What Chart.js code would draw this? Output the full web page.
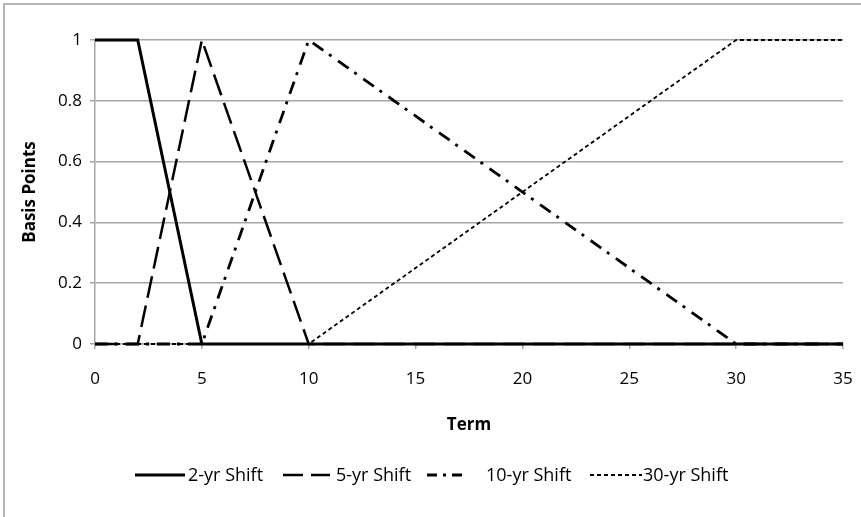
<!DOCTYPE html>
<html>
<head>
<meta charset="utf-8">
<script src="https://cdn.jsdelivr.net/npm/chart.js@4/dist/chart.umd.min.js"></script>
<style>
  html, body { margin: 0; padding: 0; background: #ffffff; overflow: hidden; }
  #wrap { position: relative; width: 861px; height: 517px; }
</style>
</head>
<body>
<div id="wrap"><canvas id="c" width="861" height="517"></canvas></div>
<script>
// Key-rate shift profiles: basis-point shift by term (years)
const terms = [0, 2, 5, 10, 30, 35];
const shift2yr  = [1, 1, 0, 0, 0, 0];
const shift5yr  = [0, 0, 1, 0, 0, 0];
const shift10yr = [0, 0, 0, 1, 0, 0];
const shift30yr = [0, 0, 0, 0, 1, 1];
const seriesLabels = ['2-yr Shift', '5-yr Shift', '10-yr Shift', '30-yr Shift'];
const xTitle = 'Term';
const yTitle = 'Basis Points';

const FONT = '"Open Sans", "Noto Sans", sans-serif';
const GRID = '#a6a6a6';

function pts(vals) { return terms.map((t, i) => ({ x: t, y: vals[i] })); }

const styles = [
  { borderWidth: 3,   borderDash: [] },
  { borderWidth: 2.5, borderDash: [22, 8] },
  { borderWidth: 2.8, borderDash: [13, 7, 3, 8] },
  { borderWidth: 1.8, borderDash: [4, 3] }
];

// legend line-sample geometry: sample start, sample length, gap before text
const legendSlots = [
  { x: 135, len: 50, gap: 3 },
  { x: 283, len: 47, gap: 6 },
  { x: 427, len: 41, gap: 18 },
  { x: 590, len: 52, gap: 1 }
];
const legendDash = [[], [20, 8], [10, 6, 3, 6], [4, 3]];

const datasets = [shift2yr, shift5yr, shift10yr, shift30yr].map((vals, i) => ({
  label: seriesLabels[i],
  data: pts(vals),
  borderColor: '#000000',
  backgroundColor: '#000000',
  borderWidth: styles[i].borderWidth,
  borderDash: styles[i].borderDash,
  pointRadius: 0,
  tension: 0,
  fill: false,
  clip: false
}));

// Outer frame (top and left edges visible) and the line-sample legend
const decor = {
  id: 'decor',
  beforeDraw(chart) {
    const ctx = chart.ctx;
    ctx.save();
    ctx.strokeStyle = '#a0a0a0';
    ctx.lineWidth = 1.5;
    ctx.strokeRect(4, 4, 900, 600);
    ctx.restore();
  },
  afterDraw(chart) {
    const ctx = chart.ctx;
    ctx.save();
    ctx.font = '18px ' + FONT;
    ctx.textBaseline = 'middle';
    ctx.fillStyle = '#000000';
    const y = 475;
    chart.data.datasets.forEach((ds, i) => {
      const s = legendSlots[i];
      ctx.strokeStyle = ds.borderColor;
      ctx.lineWidth = ds.borderWidth;
      ctx.setLineDash(legendDash[i]);
      ctx.beginPath();
      ctx.moveTo(s.x, y);
      ctx.lineTo(s.x + s.len, y);
      ctx.stroke();
      ctx.setLineDash([]);
      ctx.fillText(ds.label, s.x + s.len + s.gap, y + 1);
    });
    ctx.restore();
  }
};

new Chart(document.getElementById('c'), {
  type: 'line',
  data: { datasets },
  plugins: [decor],
  options: {
    responsive: false,
    animation: false,
    layout: { padding: { left: 0, top: 40, right: 18, bottom: 0 } },
    plugins: { legend: { display: false }, tooltip: { enabled: false } },
    scales: {
      x: {
        type: 'linear',
        min: 0, max: 35,
        afterFit(scale) { scale.height = 173; scale.paddingRight = 0; scale.paddingLeft = 0; },
        ticks: { stepSize: 5, color: '#000000', padding: 20, font: { family: FONT, size: 17 }, maxRotation: 0 },
        grid: { drawOnChartArea: false, drawTicks: true, tickLength: 5, color: GRID, lineWidth: 1.5 },
        border: { display: true, color: GRID, width: 1.5 },
        title: { display: true, text: xTitle, color: '#000000', font: { family: FONT, size: 17, weight: 'bold' }, padding: { top: 0, bottom: 82 } }
      },
      y: {
        min: 0, max: 1,
        afterFit(scale) { scale.width = 95; },
        ticks: {
          stepSize: 0.2, color: '#000000', padding: 8, font: { family: FONT, size: 17 },
          callback: v => String(Math.round(v * 10) / 10)
        },
        grid: { drawTicks: true, tickLength: 5, color: GRID, lineWidth: 1.5 },
        border: { display: true, color: GRID, width: 1.5 },
        title: { display: true, text: yTitle, color: '#000000', font: { family: FONT, size: 17, weight: 'bold' }, padding: { top: 20, bottom: 0 } }
      }
    }
  }
});
</script>
</body>
</html>
